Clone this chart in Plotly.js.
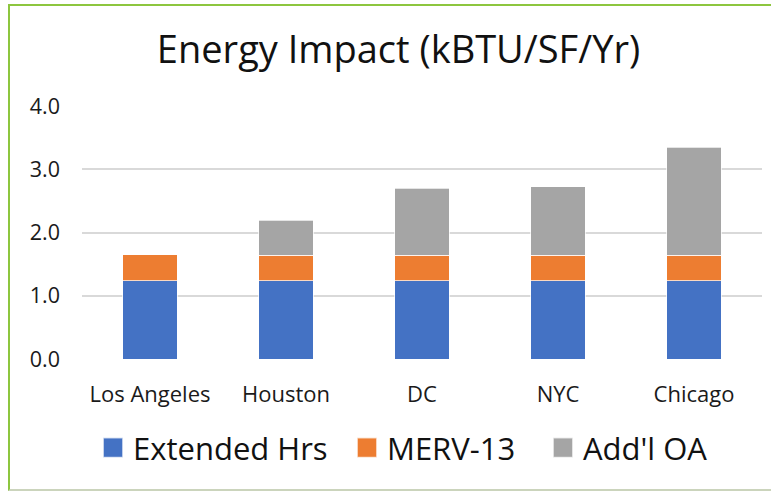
<!DOCTYPE html>
<html>
<head>
<meta charset="utf-8">
<script src="https://cdn.plot.ly/plotly-3.0.1.min.js"></script>
<style>
  html, body { margin: 0; padding: 0; background: #ffffff; }
  #wrap { position: relative; width: 771px; height: 491px; overflow: hidden; }
  #chart { position: absolute; left: 0; top: 0; width: 771px; height: 491px; }
  #frame { position: absolute; left: 8px; top: 4px; width: 800px; height: 483px;
           border-top: 2px solid #8DC63F; border-left: 2px solid #8DC63F;
           border-bottom: 2px solid #CBD4BC; pointer-events: none; }
</style>
</head>
<body>
<div id="wrap">
  <div id="chart"></div>
  <div id="frame"></div>
</div>
<script>
// Data
const cities = ["Los Angeles", "Houston", "DC", "NYC", "Chicago"];
const extendedHrs = [1.24, 1.24, 1.24, 1.24, 1.24];
const merv13 = [0.41, 0.40, 0.40, 0.40, 0.40];
const addlOA = [0, 0.55, 1.06, 1.08, 1.71];
const seriesNames = ["Extended Hrs", "MERV-13", "Add'l OA"];
const yTickVals = [0, 1, 2, 3, 4];
const yTickText = ["0.0", "1.0", "2.0", "3.0", "4.0"];

const FONT = "Open Sans, sans-serif";
const colors = ["#4472C4", "#ED7D31", "#A5A5A5"];
const values = [extendedHrs, merv13, addlOA];
const legendIds = ["legend", "legend2", "legend3"];
const legendX = [0.0162, 0.3897, 0.6779];

const traces = values.map((v, i) => ({
  type: "bar",
  name: seriesNames[i],
  x: cities,
  y: v,
  legend: legendIds[i],
  marker: { color: colors[i], line: { color: "rgba(255,255,255,0.7)", width: 1 } },
  hoverinfo: "x+y+name"
}));

const layout = {
  width: 771,
  height: 491,
  barmode: "stack",
  bargap: 0.6,
  paper_bgcolor: "#ffffff",
  plot_bgcolor: "#ffffff",
  margin: { l: 82, r: 9, t: 105.5, b: 131.7, autoexpand: false },
  title: {
    text: "Energy Impact (kBTU/SF/Yr)",
    font: { family: FONT, size: 38, color: "#111111" },
    x: 398.5 / 771, xref: "container", xanchor: "center",
    y: 1 - 50 / 491, yref: "container", yanchor: "middle"
  },
  xaxis: {
    type: "category",
    showgrid: false,
    zeroline: false,
    showline: false,
    ticks: "",
    tickfont: { family: FONT, size: 22, color: "#1a1a1a" },
    ticklabelstandoff: 20
  },
  yaxis: {
    range: [0, 4],
    tickvals: yTickVals,
    ticktext: yTickText,
    showgrid: true,
    gridcolor: "#D9D9D9",
    gridwidth: 2,
    zeroline: false,
    showline: false,
    ticks: "",
    tickfont: { family: FONT, size: 21.5, color: "#1a1a1a" },
    ticklabelstandoff: 21
  },
  showlegend: true
};

legendIds.forEach((id, i) => {
  layout[id] = {
    orientation: "h",
    x: legendX[i], xanchor: "left",
    y: -0.3515, yanchor: "middle",
    font: { family: FONT, size: 31, color: "#111111" },
    bgcolor: "rgba(0,0,0,0)",
    borderwidth: 0
  };
});

Plotly.newPlot("chart", traces, layout, { displayModeBar: false, staticPlot: true }).then(() => {
  document.querySelectorAll("#chart .legendpoints path").forEach(p => {
    const t = p.getAttribute("transform") || "";
    p.setAttribute("transform", t + " scale(1.65)");
  });
});
</script>
</body>
</html>
